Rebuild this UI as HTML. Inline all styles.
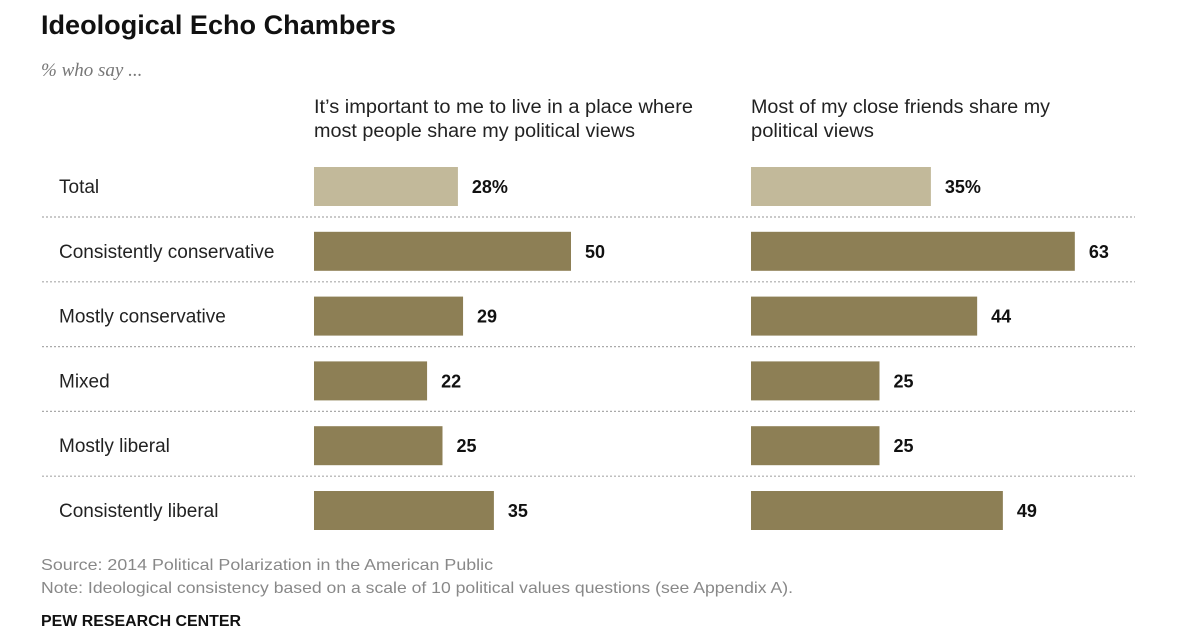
<!DOCTYPE html>
<html><head><meta charset="utf-8"><style>
html,body{margin:0;padding:0;background:#fff;}
svg{display:block;font-family:"Liberation Sans Narrow","Liberation Sans",sans-serif;}
</style></head><body>
<svg id="chart" width="1200" height="642" viewBox="0 0 1200 642">
<text x="41" y="34" font-size="27" font-weight="bold" fill="#111" textLength="355" lengthAdjust="spacingAndGlyphs">Ideological Echo Chambers</text>
<text x="41" y="76" font-size="19" font-style="italic" fill="#777" font-family="Liberation Serif, serif">% who say ...</text>
<text x="314" y="113" font-size="19" fill="#222" textLength="379" lengthAdjust="spacingAndGlyphs">It’s important to me to live in a place where</text>
<text x="314" y="137" font-size="19" fill="#222" textLength="321" lengthAdjust="spacingAndGlyphs">most people share my political views</text>
<text x="751" y="113" font-size="19" fill="#222" textLength="299" lengthAdjust="spacingAndGlyphs">Most of my close friends share my</text>
<text x="751" y="137" font-size="19" fill="#222" textLength="123" lengthAdjust="spacingAndGlyphs">political views</text>
<g id="rows"></g>
<text x="41" y="570" font-size="16" fill="#888" textLength="452" lengthAdjust="spacingAndGlyphs">Source: 2014 Political Polarization in the American Public</text>
<text x="41" y="593" font-size="16" fill="#888" textLength="752" lengthAdjust="spacingAndGlyphs">Note: Ideological consistency based on a scale of 10 political values questions (see Appendix A).</text>
<text x="41" y="626" font-size="16" font-weight="bold" fill="#111" textLength="200" lengthAdjust="spacingAndGlyphs">PEW RESEARCH CENTER</text>
</svg>
<script>
const categories = ["Total","Consistently conservative","Mostly conservative","Mixed","Mostly liberal","Consistently liberal"];
const placeValues = [28,50,29,22,25,35];
const friendsValues = [35,63,44,25,25,49];
const NS="http://www.w3.org/2000/svg";
const g=document.getElementById('rows');
const unit=257/50;
const rowTop=167, rowStep=64.8, barH=39;
function xs(v){return v*unit;}
function mk(tag,attrs){const e=document.createElementNS(NS,tag);for(const k in attrs)e.setAttribute(k,attrs[k]);g.appendChild(e);return e;}
categories.forEach((c,i)=>{
  const y=rowTop+i*rowStep;
  const lab=mk('text',{x:59,y:y+26,'font-size':19,fill:'#222'});
  lab.textContent=c;
  
  
  [[314,placeValues,'place'],[751,friendsValues,'friends']].forEach(([x0,arr,nm])=>{
    const v=arr[i];
    const r=mk('rect',{x:x0,y:y,width:xs(v),height:barH,fill:i===0?'#c2b99a':'#8d7f55'});
    
    
    const t=mk('text',{x:x0+xs(v)+14,y:y+26,'font-size':18,'font-weight':'bold',fill:'#111'});
    t.textContent=i===0?v+'%':v;
    
    
  });
  if(i<categories.length-1){
    const ly=y+barH+11;
    const l=mk('line',{x1:42,x2:1135,y1:ly,y2:ly,stroke:'#aaa','stroke-width':1.2,'stroke-dasharray':'2 2'});
    
    
  }
});
</script>
</body></html>
